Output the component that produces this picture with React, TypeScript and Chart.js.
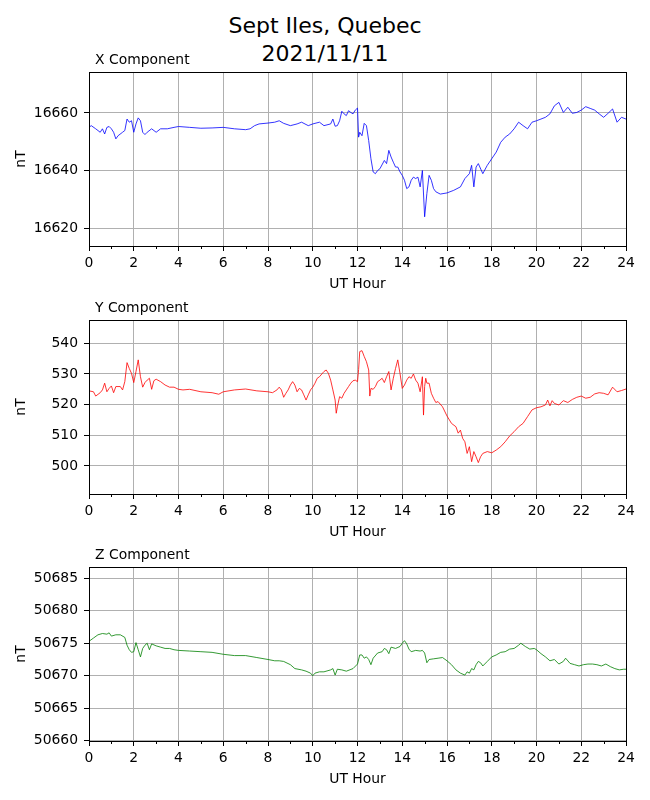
import {useEffect, useRef} from "react";
import {Chart, registerables} from "chart.js";

Chart.register(...registerables)

// values, hours UT
const xHours = [
  0, 0.1, 0.3, 0.5, 0.6, 0.7, 0.8, 0.9, 1.0, 1.1,
  1.2, 1.3, 1.5, 1.6, 1.7, 1.8, 1.9, 2.0, 2.1, 2.2,
  2.3, 2.4, 2.5, 2.6, 2.8, 3.0, 3.2, 3.5, 3.8, 4.0,
  4.5, 5, 5.5, 6, 6.5, 7, 7.2, 7.4, 7.6, 8,
  8.3, 8.5, 8.7, 9, 9.3, 9.5, 9.8, 10, 10.3, 10.5,
  10.8, 10.9, 11.0, 11.1, 11.2, 11.3, 11.4, 11.5, 11.6, 11.7,
  11.8, 11.9, 12.0, 12.05, 12.1, 12.2, 12.3, 12.4, 12.5, 12.6,
  12.7, 12.8, 12.9, 13.0, 13.2, 13.3, 13.4, 13.5, 13.6, 13.7,
  13.8, 13.9, 14.0, 14.1, 14.2, 14.3, 14.4, 14.5, 14.6, 14.7,
  14.8, 14.9, 15.0, 15.1, 15.2, 15.3, 15.4, 15.5, 15.7, 16.0,
  16.3, 16.6, 16.8, 17.0, 17.1, 17.2, 17.3, 17.4, 17.6, 17.8,
  18.0, 18.2, 18.4, 18.6, 18.8, 19.0, 19.2, 19.4, 19.6, 19.8,
  20.0, 20.2, 20.4, 20.6, 20.8, 21.0, 21.2, 21.4, 21.6, 21.8,
  22.0, 22.2, 22.4, 22.6, 22.8, 23.0, 23.2, 23.4, 23.6, 23.8,
  24,
]
const xValues = [
  16655.0, 16655.6, 16654.5, 16653.3, 16654.5, 16652.7, 16655.0, 16655.3, 16654.5, 16653.3,
  16651.0, 16652.1, 16653.3, 16653.9, 16657.9, 16656.8, 16657.3, 16653.3, 16656.2, 16658.3,
  16657.3, 16653.3, 16652.5, 16653.3, 16654.5, 16653.3, 16654.5, 16654.5, 16655.0, 16655.3,
  16655.0, 16654.7, 16654.8, 16655.0, 16654.5, 16654.2, 16654.5, 16655.6, 16656.2, 16656.5,
  16656.8, 16657.3, 16656.4, 16655.6, 16656.2, 16656.8, 16655.6, 16656.2, 16656.8, 16655.6,
  16656.2, 16657.9, 16655.4, 16655.6, 16657.3, 16660.6, 16659.7, 16659.1, 16660.8, 16660.2,
  16659.7, 16661.0, 16661.7, 16651.6, 16653.3, 16652.1, 16656.4, 16655.6, 16650.4, 16644.1,
  16639.5, 16638.9, 16640.0, 16640.6, 16643.5, 16642.4, 16647.0, 16644.7, 16642.9, 16641.2,
  16641.2, 16639.5, 16638.3, 16636.6, 16633.7, 16634.3, 16636.6, 16637.7, 16637.2, 16637.7,
  16634.3, 16640.0, 16623.9, 16632.0, 16638.3, 16636.6, 16633.7, 16632.6, 16631.8, 16632.2,
  16633.1, 16634.3, 16637.2, 16638.9, 16641.8, 16634.3, 16641.2, 16642.4, 16638.9, 16641.8,
  16644.1, 16646.4, 16649.8, 16651.6, 16652.7, 16654.5, 16656.8, 16655.6, 16654.5, 16656.8,
  16657.3, 16657.9, 16658.5, 16659.7, 16662.5, 16663.7, 16660.2, 16662.0, 16659.9, 16660.2,
  16661.0, 16662.2, 16661.6, 16661.0, 16659.7, 16658.5, 16659.9, 16661.4, 16656.8, 16658.5,
  16657.9,
]

const yHours = [
  0, 0.2, 0.3, 0.5, 0.6, 0.7, 0.8, 0.9, 1.0, 1.1,
  1.2, 1.4, 1.5, 1.6, 1.7, 1.8, 1.9, 2.0, 2.1, 2.2,
  2.3, 2.4, 2.5, 2.6, 2.7, 2.8, 2.9, 3.0, 3.2, 3.4,
  3.6, 3.8, 4.0, 4.2, 4.5, 5.0, 5.5, 5.8, 6.0, 6.5,
  7.0, 7.5, 8.0, 8.2, 8.4, 8.5, 8.6, 8.7, 8.8, 8.9,
  9.0, 9.1, 9.2, 9.3, 9.4, 9.5, 9.6, 9.7, 9.8, 9.9,
  10.0, 10.1, 10.2, 10.3, 10.5, 10.6, 10.7, 10.8, 10.9, 11.0,
  11.05, 11.1, 11.2, 11.3, 11.4, 11.5, 11.6, 11.7, 11.8, 11.9,
  12.0, 12.05, 12.1, 12.2, 12.3, 12.4, 12.5, 12.55, 12.6, 12.7,
  12.8, 12.9, 13.0, 13.1, 13.2, 13.3, 13.4, 13.5, 13.6, 13.7,
  13.8, 13.9, 14.0, 14.1, 14.2, 14.3, 14.4, 14.5, 14.6, 14.7,
  14.8, 14.9, 14.95, 15.0, 15.05, 15.1, 15.2, 15.3, 15.4, 15.5,
  15.6, 15.8, 16.0, 16.2, 16.4, 16.5, 16.6, 16.7, 16.8, 16.9,
  17.0, 17.1, 17.2, 17.3, 17.4, 17.5, 17.6, 17.8, 18.0, 18.2,
  18.4, 18.6, 18.8, 19.0, 19.2, 19.4, 19.6, 19.8, 20.0, 20.2,
  20.4, 20.5, 20.6, 20.7, 20.8, 21.0, 21.2, 21.4, 21.6, 21.8,
  22.0, 22.2, 22.4, 22.6, 22.8, 23.0, 23.2, 23.4, 23.6, 23.8,
  24,
]
const yValues = [
  524.5, 524.2, 522.8, 523.9, 524.8, 527.0, 524.2, 525.3, 526.1, 523.9,
  525.9, 525.9, 524.8, 527.5, 533.7, 531.8, 530.2, 527.2, 530.8, 534.6,
  529.1, 525.7, 527.2, 528.0, 528.6, 525.0, 527.8, 528.3, 527.5, 526.4,
  525.7, 525.7, 525.0, 524.8, 525.0, 524.2, 523.9, 523.4, 524.2, 524.8,
  525.1, 524.5, 524.2, 523.9, 524.8, 525.7, 524.8, 522.4, 523.7, 524.8,
  526.4, 527.5, 526.4, 524.2, 525.3, 524.8, 523.2, 521.5, 523.2, 524.8,
  525.7, 527.0, 528.6, 529.1, 530.8, 531.3, 530.2, 528.0, 524.8, 521.5,
  517.2, 519.3, 522.6, 522.1, 523.7, 524.8, 525.9, 527.0, 527.8, 528.0,
  527.5, 531.5, 537.3, 537.6, 535.7, 534.0, 531.3, 522.8, 525.3, 525.0,
  525.9, 527.5, 528.0, 528.6, 527.2, 529.1, 530.8, 524.8, 528.6, 531.8,
  534.6, 530.2, 525.3, 526.4, 528.0, 529.1, 528.6, 530.0, 528.0, 527.0,
  524.2, 529.1, 516.6, 525.9, 528.6, 527.0, 527.0, 523.7, 522.1, 520.7,
  521.0, 519.3, 516.3, 513.9, 512.8, 510.7, 511.7, 509.0, 507.9, 504.1,
  506.3, 501.4, 504.7, 503.0, 501.1, 503.0, 504.1, 504.7, 504.3, 505.2,
  506.3, 507.9, 509.8, 511.2, 512.8, 513.9, 516.1, 518.3, 519.0, 519.3,
  519.9, 521.5, 519.6, 521.3, 520.4, 519.9, 521.3, 520.7, 521.7, 522.4,
  522.8, 522.1, 522.4, 523.5, 523.9, 523.7, 523.2, 525.7, 524.2, 524.6,
  525.1,
]

const zHours = [
  0, 0.2, 0.4, 0.6, 0.8, 0.9, 1.0, 1.2, 1.4, 1.6,
  1.7, 1.8, 1.9, 2.0, 2.1, 2.2, 2.3, 2.4, 2.5, 2.6,
  2.7, 2.8, 3.0, 3.2, 3.4, 3.6, 3.8, 4.0, 4.5, 5.0,
  5.5, 6.0, 6.5, 7.0, 7.5, 8.0, 8.3, 8.5, 8.7, 9.0,
  9.2, 9.5, 9.7, 9.9, 10.0, 10.1, 10.3, 10.5, 10.8, 10.9,
  11.0, 11.1, 11.3, 11.5, 11.8, 12.0, 12.1, 12.2, 12.3, 12.4,
  12.5, 12.6, 12.7, 12.9, 13.1, 13.2, 13.3, 13.4, 13.5, 13.7,
  13.9, 14.0, 14.1, 14.2, 14.3, 14.4, 14.6, 14.8, 14.9, 15.0,
  15.1, 15.2, 15.4, 15.6, 15.8, 16.0, 16.2, 16.4, 16.6, 16.8,
  16.9, 17.0, 17.1, 17.2, 17.3, 17.4, 17.5, 17.6, 17.8, 18.0,
  18.2, 18.4, 18.6, 18.8, 19.0, 19.2, 19.3, 19.5, 19.7, 19.9,
  20.0, 20.2, 20.4, 20.6, 20.8, 21.0, 21.2, 21.3, 21.5, 21.7,
  21.9, 22.1, 22.3, 22.5, 22.7, 22.9, 23.1, 23.3, 23.5, 23.7,
  23.9, 24,
]
const zValues = [
  50675.3, 50675.8, 50676.3, 50676.5, 50676.4, 50676.6, 50676.1, 50676.3, 50676.3, 50675.9,
  50674.7, 50674.0, 50673.6, 50673.7, 50675.1, 50674.0, 50672.9, 50674.2, 50674.7, 50675.0,
  50674.0, 50674.9, 50674.6, 50674.4, 50674.2, 50674.2, 50674.0, 50673.9, 50673.8, 50673.7,
  50673.6, 50673.3, 50673.1, 50673.1, 50672.8, 50672.5, 50672.3, 50672.3, 50672.2, 50671.7,
  50671.1, 50670.9, 50670.7, 50670.4, 50670.0, 50670.4, 50670.6, 50670.6, 50670.9, 50671.1,
  50670.1, 50671.0, 50670.9, 50670.7, 50671.1, 50671.8, 50673.2, 50673.2, 50672.7, 50672.9,
  50672.5, 50671.7, 50672.7, 50673.5, 50673.7, 50674.2, 50674.0, 50673.4, 50674.4, 50674.2,
  50674.5, 50675.0, 50675.4, 50674.9, 50674.1, 50673.7, 50673.9, 50673.8, 50673.9, 50673.5,
  50672.0, 50672.5, 50672.6, 50672.7, 50672.8, 50672.3, 50671.7, 50670.9, 50670.4, 50670.1,
  50670.6, 50670.4, 50671.1, 50670.9, 50671.7, 50672.2, 50672.0, 50671.5, 50672.2, 50672.9,
  50673.2, 50673.6, 50673.7, 50674.1, 50674.2, 50674.7, 50675.0, 50674.5, 50674.1, 50674.2,
  50674.0, 50673.4, 50672.9, 50672.3, 50672.5, 50671.8, 50672.2, 50672.7, 50671.9, 50671.7,
  50671.5, 50671.7, 50671.8, 50671.8, 50671.7, 50671.5, 50671.8, 50671.4, 50671.1, 50670.9,
  50671.0, 50671.0,
]

const hourTicks = [0, 2, 4, 6, 8, 10, 12, 14, 16, 18, 20, 22, 24]
const minorHours = [1, 3, 5, 7, 9, 11, 13, 15, 17, 19, 21, 23]
const xTicks = [16620, 16640, 16660]
const yTicks = [500, 510, 520, 530, 540]
const zTicks = [50660, 50665, 50670, 50675, 50680, 50685]

const FONT = "'DejaVu Sans', sans-serif"
const GRID = "#b0b0b0"

Chart.defaults.font.family = FONT
Chart.defaults.font.size = 13.9
Chart.defaults.color = "black"

type PanelProps = {
  title: string
  hours: number[]
  values: number[]
  color: string
  ticks: number[]
  min: number
  max: number
  top: number
}

const Panel = ({title, hours, values, color, ticks, min, max, top}: PanelProps) => {
  const canvas = useRef<HTMLCanvasElement>(null)

  useEffect(() => {
    // box round the axes, minor hour ticks and the panel title
    const frame = {
      id: "frame",
      afterDraw(c: Chart) {
        const {ctx, chartArea: a} = c
        const xs = c.scales.x
        ctx.save()
        ctx.strokeStyle = "black"
        ctx.lineWidth = 1
        ctx.strokeRect(a.left + 0.5, a.top + 0.5, a.right - a.left, a.bottom - a.top)
        minorHours.forEach(h => {
          const px = Math.round(xs.getPixelForValue(h)) + 0.5
          ctx.beginPath()
          ctx.moveTo(px, a.bottom)
          ctx.lineTo(px, a.bottom + 3)
          ctx.stroke()
        })
        ctx.fillStyle = "black"
        ctx.font = `13.9px ${FONT}`
        ctx.textAlign = "left"
        ctx.textBaseline = "alphabetic"
        ctx.fillText(title, a.left + 6, a.top - 8)
        ctx.restore()
      }
    }

    const chart = new Chart(canvas.current!, {
      type: "line",
      data: {
        datasets: [{
          data: hours.map((h, i) => ({x: h, y: values[i]})),
          borderColor: color,
          borderWidth: 0.8,
          pointRadius: 0,
          tension: 0,
          fill: false,
        }]
      },
      options: {
        animation: false,
        responsive: false,
        events: [],
        layout: {padding: {top: 30, right: 24, bottom: 0, left: 0}},
        plugins: {legend: {display: false}, tooltip: {enabled: false}},
        scales: {
          x: {
            type: "linear",
            min: 0,
            max: 24,
            afterBuildTicks: s => { s.ticks = hourTicks.map(v => ({value: v})) },
            afterFit: s => { s.height = 48 },
            ticks: {autoSkip: false, maxRotation: 0, padding: 4, color: "black", callback: v => String(v)},
            grid: {color: GRID, lineWidth: 1, tickLength: 5, tickColor: "black"},
            border: {color: "black", width: 1},
            title: {display: true, text: "UT Hour", color: "black", padding: {top: 0, bottom: 1}},
          },
          y: {
            type: "linear",
            min,
            max,
            afterBuildTicks: s => { s.ticks = ticks.map(v => ({value: v})) },
            afterFit: s => { s.width = 89 },
            ticks: {padding: 6, color: "black", callback: v => String(v)},
            grid: {color: GRID, lineWidth: 1, tickLength: 5, tickColor: "black"},
            border: {color: "black", width: 1},
            title: {display: true, text: "nT", color: "black", padding: {top: 13, bottom: 0}},
          }
        }
      },
      plugins: [frame]
    })
    return () => {
      chart.destroy()
    }
  }, [])

  return (
    <canvas ref={canvas} width={650} height={252}
            style={{position: "absolute", left: 0, top: top}}/>
  )
}

export default () => {
  return (
    <div style={{position: "absolute", left: 0, top: 0, width: 650, height: 800, background: "white"}}>
      <div style={{
        position: "absolute", left: 0, top: 12, width: 650, textAlign: "center",
        fontFamily: FONT, fontSize: 22, lineHeight: "27.7px", color: "black"
      }}>
        Sept Iles, Quebec<br/>2021/11/11
      </div>
      <Panel title="X Component" hours={xHours} values={xValues} color="blue"
             ticks={xTicks} min={16613.74} max={16674.26} top={42}/>
      <Panel title="Y Component" hours={yHours} values={yValues} color="red"
             ticks={yTicks} min={490.87} max={547.6} top={290}/>
      <Panel title="Z Component" hours={zHours} values={zValues} color="green"
             ticks={zTicks} min={50659.95} max={50686.74} top={537}/>
    </div>
  )
}
